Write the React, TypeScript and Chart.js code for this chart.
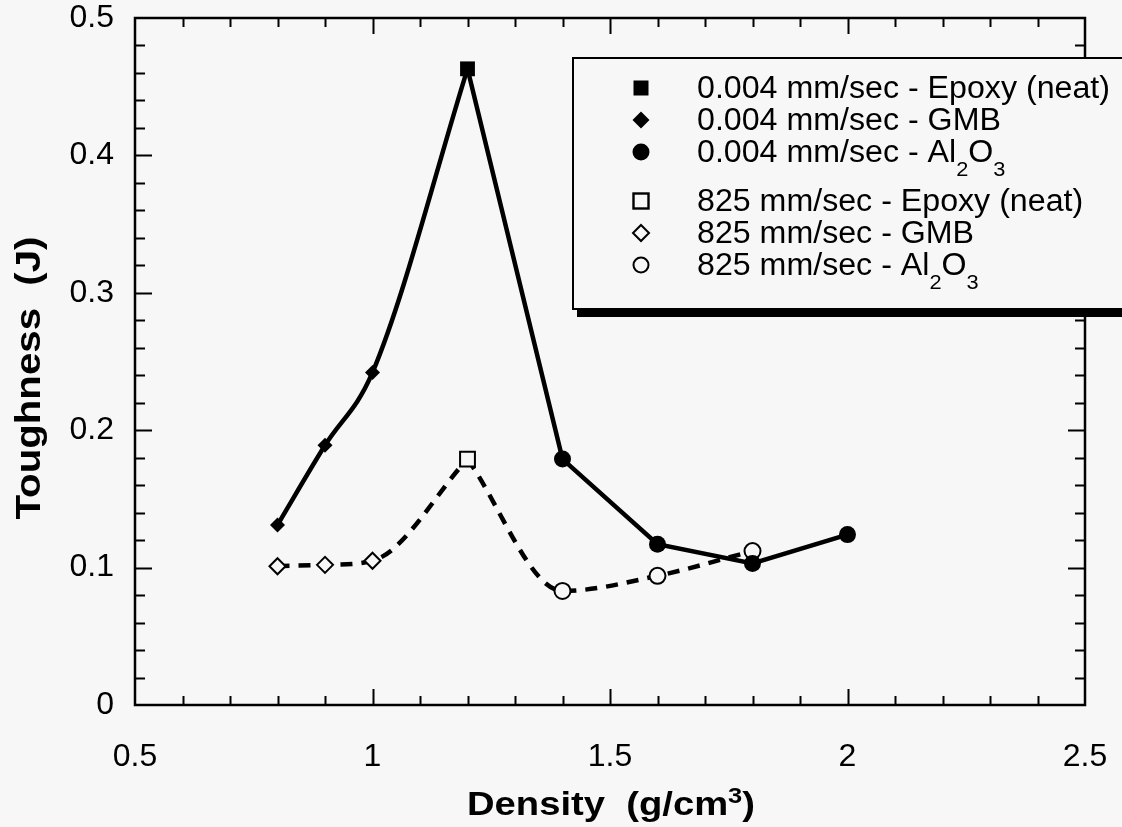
import React, { useEffect, useRef } from "react";
import { Chart, registerables } from "chart.js";

Chart.register(...registerables);

// ---- Data ----
const DENSITY_GMB = [0.8, 0.9, 1.0];
const DENSITY_EPOXY = [1.2];
const DENSITY_AL2O3_SLOW = [1.4, 1.6, 1.8, 2.0];
const DENSITY_AL2O3_FAST = [1.4, 1.6, 1.8];

const SLOW_GMB = [0.131, 0.189, 0.242];
const SLOW_EPOXY = [0.463];
const SLOW_AL2O3 = [0.179, 0.117, 0.103, 0.124];

const FAST_GMB = [0.101, 0.102, 0.105];
const FAST_EPOXY = [0.179];
const FAST_AL2O3 = [0.083, 0.094, 0.112];

const X_TICKS = [0.5, 1, 1.5, 2, 2.5];
const X_TICK_LABELS = ["0.5", "1", "1.5", "2", "2.5"];
const Y_TICKS = [0, 0.1, 0.2, 0.3, 0.4, 0.5];
const Y_TICK_LABELS = ["0", "0.1", "0.2", "0.3", "0.4", "0.5"];
const X_MINOR = 0.1;
const Y_MINOR = 0.02;

const X_TITLE_PARTS = [{ t: "Density  (g/cm" }, { t: "3", sup: true }, { t: ")" }];
const Y_TITLE = "Toughness  (J)";

type Part = { t: string; sub?: boolean };
const LEGEND_ITEMS: { marker: string; parts: Part[] }[] = [
  { marker: "fsquare", parts: [{ t: "0.004 mm/sec - Epoxy (neat)" }] },
  { marker: "fdiamond", parts: [{ t: "0.004 mm/sec - GMB" }] },
  { marker: "fcircle", parts: [{ t: "0.004 mm/sec - Al" }, { t: "2", sub: true }, { t: "O" }, { t: "3", sub: true }] },
  { marker: "osquare", parts: [{ t: "825 mm/sec - Epoxy (neat)" }] },
  { marker: "odiamond", parts: [{ t: "825 mm/sec - GMB" }] },
  { marker: "ocircle", parts: [{ t: "825 mm/sec - Al" }, { t: "2", sub: true }, { t: "O" }, { t: "3", sub: true }] },
];

const BG = "#f7f7f7";
const FONT = "'Liberation Sans', Arial, Helvetica, sans-serif";

const pts = (xs: number[], ys: number[]) => xs.map((x, i) => ({ x, y: ys[i] }));

const framePlugin = {
  id: "frameTicks",
  beforeDraw(chart: any) {
    const ctx = chart.ctx;
    ctx.save();
    ctx.fillStyle = BG;
    ctx.fillRect(0, 0, chart.width, chart.height);
    ctx.restore();
  },
  beforeDatasetsDraw(chart: any) {
    const ctx = chart.ctx;
    const { left, right, top, bottom } = chart.chartArea;
    const xs = chart.scales.x;
    const ys = chart.scales.y;
    ctx.save();
    ctx.strokeStyle = "#000";
    ctx.lineWidth = 2;
    ctx.beginPath();
    const nx = Math.round((X_TICKS[X_TICKS.length - 1] - X_TICKS[0]) / X_MINOR);
    for (let i = 1; i < nx; i++) {
      const v = X_TICKS[0] + i * X_MINOR;
      const px = Math.round(xs.getPixelForValue(v)) + 0.5;
      const len = i % 5 === 0 ? 16 : 9;
      ctx.moveTo(px, bottom);
      ctx.lineTo(px, bottom - len);
      ctx.moveTo(px, top);
      ctx.lineTo(px, top + len);
    }
    const ny = Math.round((Y_TICKS[Y_TICKS.length - 1] - Y_TICKS[0]) / Y_MINOR);
    for (let i = 1; i < ny; i++) {
      const v = Y_TICKS[0] + i * Y_MINOR;
      const py = Math.round(ys.getPixelForValue(v)) + 0.5;
      const len = i % 5 === 0 ? 17 : 10;
      ctx.moveTo(left, py);
      ctx.lineTo(left + len, py);
      ctx.moveTo(right, py);
      ctx.lineTo(right - len, py);
    }
    ctx.stroke();
    ctx.lineWidth = 2.5;
    ctx.strokeRect(left, top, right - left, bottom - top);
    ctx.restore();
  },
  afterDraw(chart: any) {
    const ctx = chart.ctx;
    const area = chart.chartArea;
    ctx.save();
    ctx.fillStyle = "#000";
    ctx.textBaseline = "alphabetic";
    ctx.textAlign = "left";

    // X title (with superscript)
    const xMain = `bold 33px ${FONT}`;
    const xSup = `bold 22px ${FONT}`;
    let rawW = 0;
    X_TITLE_PARTS.forEach((p) => {
      ctx.font = p.sup ? xSup : xMain;
      rawW += ctx.measureText(p.t).width;
    });
    const xTarget = 288;
    const xsx = xTarget / rawW;
    const xcx = (area.left + area.right) / 2 + 1;
    let cx0 = xcx - xTarget / 2;
    X_TITLE_PARTS.forEach((p) => {
      ctx.font = p.sup ? xSup : xMain;
      const w = ctx.measureText(p.t).width * xsx;
      ctx.save();
      ctx.translate(cx0, 815 - (p.sup ? 12 : 0));
      ctx.scale(xsx, 1);
      ctx.fillText(p.t, 0, 0);
      ctx.restore();
      cx0 += w;
    });

    // Y title
    ctx.font = `bold 35px ${FONT}`;
    const yw = ctx.measureText(Y_TITLE).width;
    const yTarget = 283;
    ctx.save();
    ctx.translate(40, 378 + yTarget / 2);
    ctx.rotate(-Math.PI / 2);
    ctx.scale(yTarget / yw, 1);
    ctx.fillText(Y_TITLE, 0, 0);
    ctx.restore();

    // Legend box with shadow
    const bx = 573, by = 58, bw = 620, bh = 251;
    ctx.fillStyle = "#000";
    ctx.fillRect(bx + 4, by + 8, bw, bh);
    ctx.fillStyle = BG;
    ctx.fillRect(bx, by, bw, bh);
    ctx.strokeStyle = "#000";
    ctx.lineWidth = 2;
    ctx.strokeRect(bx, by, bw, bh);

    const mainFont = `31px ${FONT}`;
    const subFont = `21px ${FONT}`;
    ctx.font = mainFont;
    const firstW = ctx.measureText(LEGEND_ITEMS[0].parts[0].t).width;
    const sx = 413 / firstW;
    const baselines = [98, 130, 162, 211, 243, 275];
    const textX = 697;
    const markX = 641;

    LEGEND_ITEMS.forEach((item, i) => {
      const yb = baselines[i];
      let cx = textX;
      ctx.fillStyle = "#000";
      item.parts.forEach((p) => {
        ctx.font = p.sub ? subFont : mainFont;
        const w = ctx.measureText(p.t).width * sx;
        ctx.save();
        ctx.translate(cx, yb + (p.sub ? 14 : 0));
        ctx.scale(sx, 1);
        ctx.fillText(p.t, 0, 0);
        ctx.restore();
        cx += w;
      });
      // marker
      const my = yb - 10;
      ctx.save();
      ctx.fillStyle = "#000";
      ctx.strokeStyle = "#000";
      ctx.beginPath();
      switch (item.marker) {
        case "fsquare":
          ctx.fillRect(markX - 7.5, my - 7.5, 15, 15);
          break;
        case "fdiamond":
          ctx.moveTo(markX, my - 8.5);
          ctx.lineTo(markX + 8.5, my);
          ctx.lineTo(markX, my + 8.5);
          ctx.lineTo(markX - 8.5, my);
          ctx.closePath();
          ctx.fill();
          break;
        case "fcircle":
          ctx.arc(markX, my, 8.5, 0, Math.PI * 2);
          ctx.fill();
          break;
        case "osquare":
          ctx.lineWidth = 2.4;
          ctx.strokeRect(markX - 7.5, my - 7.5, 15, 15);
          break;
        case "odiamond":
          ctx.lineWidth = 2;
          ctx.moveTo(markX, my - 8);
          ctx.lineTo(markX + 8, my);
          ctx.lineTo(markX, my + 8);
          ctx.lineTo(markX - 8, my);
          ctx.closePath();
          ctx.stroke();
          break;
        case "ocircle":
          ctx.lineWidth = 2;
          ctx.arc(markX, my, 7.5, 0, Math.PI * 2);
          ctx.stroke();
          break;
      }
      ctx.restore();
    });
    ctx.restore();
  },
};

export default function App() {
  const ref = useRef<HTMLCanvasElement | null>(null);
  useEffect(() => {
    document.body.style.margin = "0";
    document.body.style.background = BG;
    const canvas = ref.current!;
    const lineBase = {
      type: "line" as const,
      pointRadius: 0,
      pointHoverRadius: 0,
      borderColor: "#000",
      borderWidth: 4.5,
      fill: false,
      order: 2,
    };
    const markerBase = {
      type: "scatter" as const,
      showLine: false,
      borderColor: "#000",
      order: 1,
    };
    const chart = new Chart(canvas, {
      type: "scatter",
      data: {
        datasets: [
          {
            ...markerBase,
            label: "0.004 mm/sec - Epoxy (neat)",
            data: pts(DENSITY_EPOXY, SLOW_EPOXY),
            pointStyle: "rect",
            pointRadius: 10.5,
            backgroundColor: "#000",
            borderWidth: 0,
          },
          {
            ...markerBase,
            label: "0.004 mm/sec - GMB",
            data: pts(DENSITY_GMB, SLOW_GMB),
            pointStyle: "rectRot",
            pointRadius: 7.5,
            backgroundColor: "#000",
            borderWidth: 0,
          },
          {
            ...markerBase,
            label: "0.004 mm/sec - Al2O3",
            data: pts(DENSITY_AL2O3_SLOW, SLOW_AL2O3),
            pointStyle: "circle",
            pointRadius: 8.5,
            backgroundColor: "#000",
            borderWidth: 0,
          },
          {
            ...markerBase,
            label: "825 mm/sec - Epoxy (neat)",
            data: pts(DENSITY_EPOXY, FAST_EPOXY),
            pointStyle: "rect",
            pointRadius: 10.5,
            backgroundColor: BG,
            borderWidth: 2,
          },
          {
            ...markerBase,
            label: "825 mm/sec - GMB",
            data: pts(DENSITY_GMB, FAST_GMB),
            pointStyle: "rectRot",
            pointRadius: 8,
            backgroundColor: BG,
            borderWidth: 2,
          },
          {
            ...markerBase,
            label: "825 mm/sec - Al2O3",
            data: pts(DENSITY_AL2O3_FAST, FAST_AL2O3),
            pointStyle: "circle",
            pointRadius: 8,
            backgroundColor: BG,
            borderWidth: 2,
          },
          {
            ...lineBase,
            label: "slow-left",
            data: pts([...DENSITY_GMB, ...DENSITY_EPOXY], [...SLOW_GMB, ...SLOW_EPOXY]),
            cubicInterpolationMode: "monotone",
          },
          {
            ...lineBase,
            label: "slow-right",
            data: pts([...DENSITY_EPOXY, ...DENSITY_AL2O3_SLOW], [...SLOW_EPOXY, ...SLOW_AL2O3]),
            tension: 0,
          },
          {
            ...lineBase,
            label: "fast-left",
            data: pts([...DENSITY_GMB, ...DENSITY_EPOXY], [...FAST_GMB, ...FAST_EPOXY]),
            cubicInterpolationMode: "monotone",
            borderDash: [12, 9],
          },
          {
            ...lineBase,
            label: "fast-right",
            data: pts([...DENSITY_EPOXY, ...DENSITY_AL2O3_FAST], [...FAST_EPOXY, ...FAST_AL2O3]),
            cubicInterpolationMode: "monotone",
            borderDash: [12, 9],
          },
        ] as any,
      },
      options: {
        responsive: false,
        animation: false,
        events: [],
        layout: { padding: { top: 18, right: 37, left: 0, bottom: 0 } },
        plugins: {
          legend: { display: false },
          tooltip: { enabled: false },
          title: { display: false },
        },
        scales: {
          x: {
            type: "linear",
            min: X_TICKS[0],
            max: X_TICKS[X_TICKS.length - 1],
            afterBuildTicks: (s: any) => {
              s.ticks = X_TICKS.map((v) => ({ value: v }));
            },
            afterFit: (s: any) => {
              s.height = 122;
              s.paddingLeft = 0;
              s.paddingRight = 0;
            },
            grid: { display: false, drawTicks: false },
            border: { display: false },
            ticks: {
              color: "#000",
              font: { family: FONT, size: 32 },
              padding: 33,
              maxRotation: 0,
              autoSkip: false,
              callback: (v: any) => {
                const i = X_TICKS.indexOf(Number(v));
                return i >= 0 ? X_TICK_LABELS[i] : "";
              },
            },
          },
          y: {
            type: "linear",
            min: Y_TICKS[0],
            max: Y_TICKS[Y_TICKS.length - 1],
            afterBuildTicks: (s: any) => {
              s.ticks = Y_TICKS.map((v) => ({ value: v }));
            },
            afterFit: (s: any) => {
              s.width = 135;
              s.paddingTop = 0;
              s.paddingBottom = 0;
            },
            grid: { display: false, drawTicks: false },
            border: { display: false },
            ticks: {
              color: "#000",
              font: { family: FONT, size: 32 },
              padding: 21,
              autoSkip: false,
              callback: (v: any) => {
                const i = Y_TICKS.findIndex((t) => Math.abs(t - Number(v)) < 1e-9);
                return i >= 0 ? Y_TICK_LABELS[i] : "";
              },
            },
          },
        },
      } as any,
      plugins: [framePlugin],
    });
    return () => chart.destroy();
  }, []);

  return (
    <div style={{ position: "fixed", left: 0, top: 0, width: 1122, height: 827, background: BG }}>
      <canvas ref={ref} width={1122} height={827} style={{ display: "block", width: 1122, height: 827 }} />
    </div>
  );
}
